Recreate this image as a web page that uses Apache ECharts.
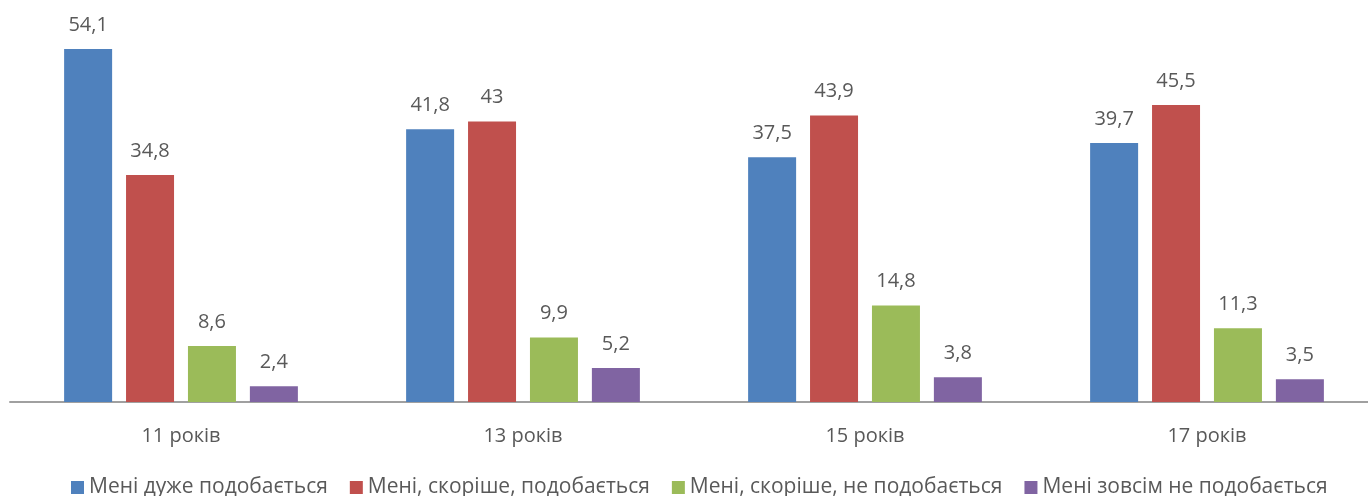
<!DOCTYPE html>
<html>
<head>
<meta charset="utf-8">
<script src="https://cdn.jsdelivr.net/npm/echarts@6/dist/echarts.min.js"></script>
<style>
  html, body { margin: 0; padding: 0; background: #fff; overflow: hidden; }
  #chart { width: 1378px; height: 496px; }
</style>
</head>
<body>
<div id="chart"></div>
<script>
const categories = ['11 років', '13 років', '15 років', '17 років'];
const seriesNames = [
  'Мені дуже подобається',
  'Мені, скоріше, подобається',
  'Мені, скоріше, не подобається',
  'Мені зовсім не подобається'
];
const veryLike = [54.1, 41.8, 37.5, 39.7];
const ratherLike = [34.8, 43, 43.9, 45.5];
const ratherDislike = [8.6, 9.9, 14.8, 11.3];
const dislike = [2.4, 5.2, 3.8, 3.5];
const colors = ['#4F81BD', '#C0504D', '#9BBB59', '#8064A2'];

const FONT = '"Open Sans", "Noto Sans", sans-serif';

const chart = echarts.init(document.getElementById('chart'));

const makeSeries = (name, data, i) => ({
  name: name,
  type: 'bar',
  data: data,
  barWidth: 48,
  barGap: '29%',
  itemStyle: { color: colors[i] },
  label: {
    show: true,
    position: 'top',
    distance: 14,
    color: '#595959',
    fontSize: 20,
    fontFamily: FONT,
    formatter: p => String(p.value).replace('.', ',')
  }
});

// chart div is slightly wider than the window so the last category runs to the edge
// legend sits low and gets cut by the bottom edge, like in the source picture
chart.setOption({
  animation: false,
  grid: { left: 10, right: 0, top: 10.5, bottom: 94 },
  legend: {
    top: 472,
    left: 66,
    itemWidth: 13,
    itemHeight: 13,
    itemGap: 22,
    icon: 'rect',
    textStyle: { color: '#595959', fontSize: 21, fontFamily: FONT },
    data: seriesNames
  },
  xAxis: {
    type: 'category',
    data: categories,
    axisLine: { lineStyle: { color: '#A0A0A0', width: 2 } },
    axisTick: { show: false },
    axisLabel: { color: '#595959', fontSize: 20, fontFamily: FONT, margin: 24 }
  },
  yAxis: {
    type: 'value',
    min: 0,
    max: 60,
    show: false,
    splitLine: { show: false }
  },
  series: [
    makeSeries(seriesNames[0], veryLike, 0),
    makeSeries(seriesNames[1], ratherLike, 1),
    makeSeries(seriesNames[2], ratherDislike, 2),
    makeSeries(seriesNames[3], dislike, 3)
  ]
});
</script>
</body>
</html>
